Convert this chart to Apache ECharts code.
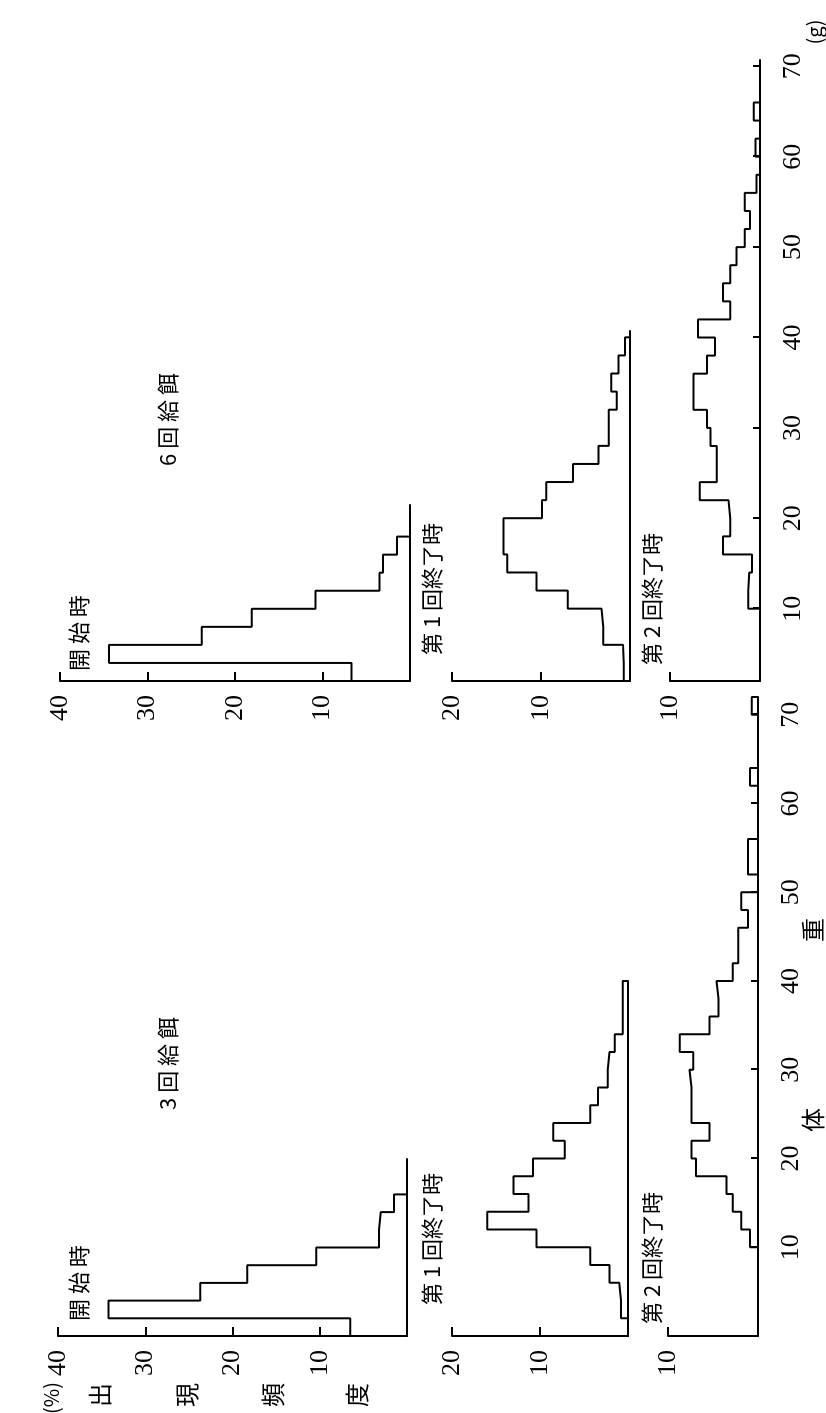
<!DOCTYPE html>
<html><head><meta charset="utf-8">
<script src="https://cdn.jsdelivr.net/npm/echarts@6/dist/echarts.min.js"></script>
<style>
html,body{margin:0;padding:0;overflow:hidden;background:#fff;width:826px;height:1413px;}
#chart{position:absolute;left:0;top:0;width:1413px;height:826px;transform-origin:0 0;transform:translateY(1413px) rotate(-90deg);}
</style></head><body><div id="chart"></div>
<script>
// ---- data (frequency %, 2 g bins) ----
const binWidth = 2;
const weightTicks = [10, 20, 30, 40, 50, 60, 70];
const freqTicksTop = [10, 20, 30, 40];
const freqTicksMid = [10, 20];
const freqTicksBot = [10];

// 3回給餌
const f3StartFrom = 0;
const f3Start = [6.5, 34.2, 23.7, 18.3, 10.4, 3.2, 3.0, 1.5];
const f3End1From = 2;
const f3End1 = [0.8, 1.0, 2.1, 4.3, 10.4, 16.0, 11.3, 13.0, 10.8, 7.2, 8.5, 4.3, 3.4, 2.3, 2.1, 1.5, 0.6, 0.6, 0.6];
const f3End2From = 10;
const f3End2 = [0.9, 1.85, 2.8, 3.5, 6.9, 7.4, 5.4, 7.4, 7.4, 7.6, 7.2, 8.7, 5.4, 4.4, 4.6, 2.8, 2.2, 2.2, 1.1, 1.85, 0, 1.1, 1.1, 0, 0, 0, 0.9, 0, 0, 0, 0.7];

// 6回給餌
const f6StartFrom = 2;
const f6Start = [6.7, 34.4, 23.8, 18.1, 10.8, 3.5, 3.1, 1.5];
const f6End1From = 2;
const f6End1 = [0.7, 0.8, 3.0, 3.2, 7.0, 10.5, 13.8, 14.2, 14.2, 9.9, 9.4, 6.4, 3.55, 2.4, 2.4, 1.5, 2.1, 1.3, 0.56];
const f6End2From = 10;
const f6End2 = [1.3, 1.2, 0.9, 4.1, 3.3, 3.5, 6.7, 4.8, 4.8, 5.5, 5.9, 7.4, 7.4, 5.9, 5.0, 6.9, 3.3, 4.1, 3.3, 2.6, 1.7, 1.1, 1.7, 0.4, 0, 0.5, 0, 0.7, 0, 0];

// ---- chart ----
function histPoints(from, freq) {
  const pts = [[from, 0]];
  freq.forEach((f, i) => pts.push([from + i * binWidth, f]));
  pts.push([from + freq.length * binWidth, 0]);
  return pts;
}
const NUM_FONT = 'Liberation Serif';
const CJK_FONT = '"Noto Sans CJK JP", sans-serif';

const panels = [
  {left: 77, width: 177, top: 58, height: 349, xmin: 0, xmax: 20, ymax: 40, ft: freqTicksTop, wt: false, from: f3StartFrom, freq: f3Start},
  {left: 77, width: 355, top: 452, height: 176, xmin: 0, xmax: 40, ymax: 20, ft: freqTicksMid, wt: false, from: f3End1From, freq: f3End1},
  {left: 77, width: 639, top: 668, height: 90, xmin: 0, xmax: 72, ymax: 10, ft: freqTicksBot, wt: true, from: f3End2From, freq: f3End2},
  {left: 732, width: 176, top: 60, height: 350, xmin: 2, xmax: 21.5, ymax: 40, ft: freqTicksTop, wt: false, from: f6StartFrom, freq: f6Start},
  {left: 732, width: 350, top: 452, height: 178, xmin: 2, xmax: 40.7, ymax: 20, ft: freqTicksMid, wt: false, from: f6End1From, freq: f6End1},
  {left: 732, width: 621, top: 670, height: 90, xmin: 2, xmax: 70.7, ymax: 10, ft: freqTicksBot, wt: true, from: f6End2From, freq: f6End2}
];

const grid = [], xAxis = [], yAxis = [], series = [];
panels.forEach((p, i) => {
  grid.push({left: p.left, top: p.top, width: p.width, height: p.height, containLabel: false});
  xAxis.push({
    type: 'value', gridIndex: i, min: p.xmin, max: p.xmax,
    axisLine: {show: true, onZero: false, lineStyle: {color: '#000', width: 2}},
    axisTick: {show: p.wt, inside: true, length: 7, customValues: weightTicks, lineStyle: {color: '#000', width: 2}},
    axisLabel: {show: p.wt, customValues: weightTicks, margin: 20, color: '#000', fontFamily: NUM_FONT, fontSize: 26},
    splitLine: {show: false}
  });
  yAxis.push({
    type: 'value', gridIndex: i, min: 0, max: p.ymax,
    axisLine: {show: true, onZero: false, lineStyle: {color: '#000', width: 2}},
    axisTick: {show: true, inside: true, length: 9, customValues: p.ft, lineStyle: {color: '#000', width: 2}},
    axisLabel: {show: true, customValues: p.ft, margin: 14, color: '#000', fontFamily: NUM_FONT, fontSize: 26},
    splitLine: {show: false}
  });
  series.push({
    type: 'line', xAxisIndex: i, yAxisIndex: i, step: 'end', symbol: 'none', clip: false,
    lineStyle: {color: '#000', width: 2}, data: histPoints(p.from, p.freq), silent: true
  });
});

function txt(text, x, y, size, align, font) {
  return {type: 'text', x: x, y: y, silent: true,
    style: {text: text, fill: '#000', fontSize: size, fontFamily: font || CJK_FONT, align: align || 'left', verticalAlign: 'middle'}};
}
const graphic = [
  txt('(%)', 15, 51, 20, 'center'),
  txt('出', 18, 100, 24, 'center'),
  txt('現', 18, 187, 24, 'center'),
  txt('頻', 18, 273, 24, 'center'),
  txt('度', 18, 357, 24, 'center'),
  txt('開 始 時', 92, 79, 22),
  txt('開 始 時', 742, 79, 22),
  txt('第 1 回終了時', 108, 432, 22),
  txt('第 1 回終了時', 758, 432, 22),
  txt('第 2 回終了時', 89, 652, 22),
  txt('第 2 回終了時', 748, 652, 22),
  txt('3 回 給 餌', 303, 168, 22),
  txt('6 回 給 餌', 947, 168, 22),
  txt('体', 293, 813, 24, 'center'),
  txt('重', 483, 813, 24, 'center'),
  txt('(g)', 1381, 814, 20, 'center')
];

const chart = echarts.init(document.getElementById('chart'), null, {renderer: 'canvas', width: 1413, height: 826});
chart.setOption({animation: false, backgroundColor: '#fff', grid, xAxis, yAxis, series, graphic});
</script></body></html>
